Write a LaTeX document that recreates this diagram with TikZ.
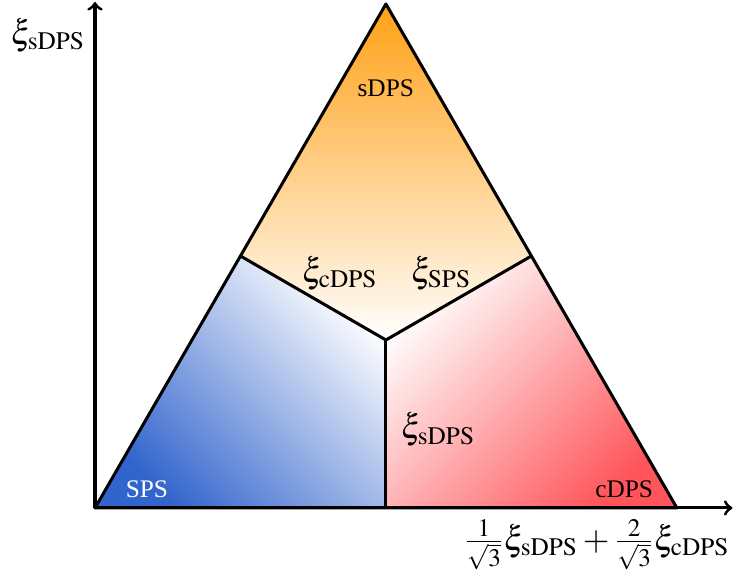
\documentclass[tikz,border=0pt]{standalone}
\usepackage{mathptmx}
\usepackage{fontspec}
\setmainfont{Liberation Serif}

\definecolor{sdpsorange}{RGB}{255,160,20}
\definecolor{spsblue}{RGB}{50,100,205}
\definecolor{cdpsred}{RGB}{255,85,90}

\begin{document}
\begin{tikzpicture}[x=7cm, y=7cm, >=to,
    edge/.style={very thick, line join=round},
    axis/.style={very thick, ->},
    xilabel/.style={font=\fontsize{13.5}{16}\selectfont}]

\useasboundingbox (-0.1885,-0.131) rectangle (1.268,1.008);

% Ecken, Seitenmitten und Schwerpunkt
\coordinate (S) at (0,0);
\coordinate (C) at ({2/sqrt(3)},0);
\coordinate (D) at ({1/sqrt(3)},1);
\coordinate (L) at ({0.5/sqrt(3)},0.5);
\coordinate (R) at ({1.5/sqrt(3)},0.5);
\coordinate (B) at ({1/sqrt(3)},0);
\coordinate (M) at ({1/sqrt(3)},{1/3});
\coordinate (xend) at (1.265,0);
\coordinate (yend) at (0,1.004);

% Farbverlaeufe der drei Bereiche
\shade[top color=sdpsorange, bottom color=white] (L) -- (D) -- (R) -- (M) -- cycle;
\shade[top color=white, bottom color=spsblue, shading angle=-45] (S) -- (L) -- (M) -- (B) -- cycle;
\shade[top color=white, bottom color=cdpsred, shading angle=45] (B) -- (M) -- (R) -- (C) -- cycle;

% Achsen
\draw[axis] (S) -- (yend);
\draw[axis] (S) -- (xend);

% Dreieck und Trennlinien
\draw[edge] (S) -- (D) -- (C) -- cycle;
\draw[edge] (L) -- (M) -- (R);
\draw[edge] (M) -- (B);

% Beschriftungen
\node (lsdps) at (0.577,0.833) {sDPS};
\node[text=white] (lsps) at (0.103,0.038) {SPS};
\node (lcdps) at (1.050,0.038) {cDPS};
\node[xilabel] (xic) at (0.486,0.466) {$\xi_{\mathrm{cDPS}}$};
\node[xilabel] (xis) at (0.687,0.466) {$\xi_{\mathrm{SPS}}$};
\node[xilabel] (xisd) at (0.681,0.155) {$\xi_{\mathrm{sDPS}}$};
\node[xilabel] (ylab) at (-0.093,0.938) {$\xi_{\mathrm{sDPS}}$};
\node[xilabel] (xlab) at (0.996,-0.073) {$\frac{1}{\sqrt{3}}\xi_{\mathrm{sDPS}}+\frac{2}{\sqrt{3}}\xi_{\mathrm{cDPS}}$};

\end{tikzpicture}
\end{document}
